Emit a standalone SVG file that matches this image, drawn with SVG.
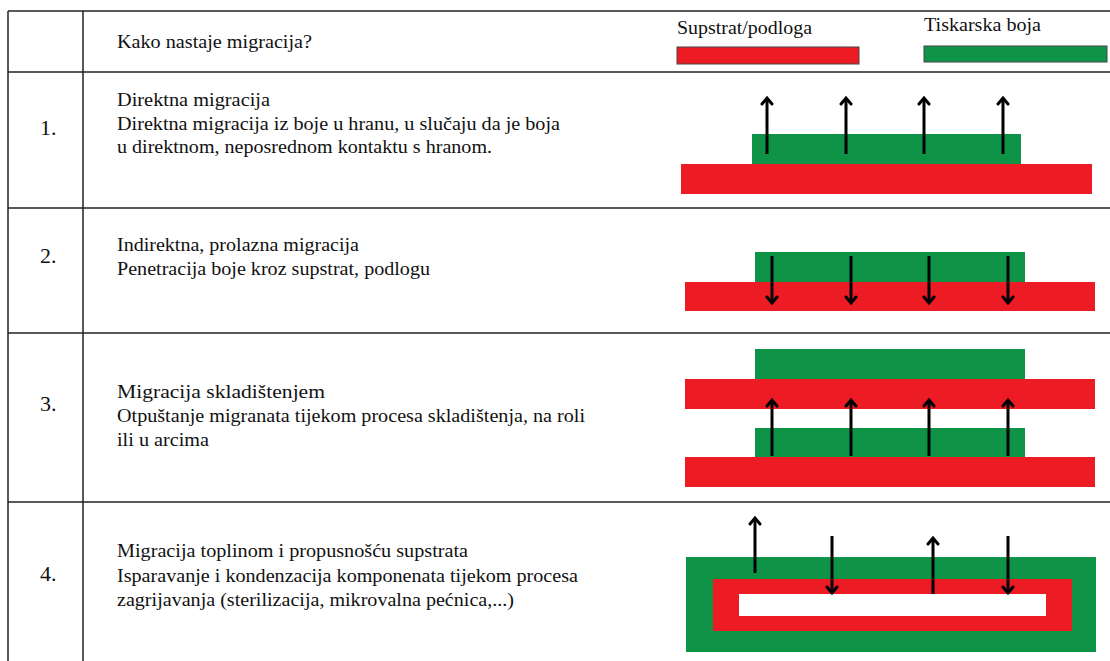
<svg xmlns="http://www.w3.org/2000/svg" width="1110" height="661" viewBox="0 0 1110 661">
<defs>
<style>
.t{font-family:'Liberation Serif','Times New Roman',serif;font-size:19px;fill:#111}
.n{font-family:'Liberation Serif','Times New Roman',serif;font-size:22px;fill:#111}
.red{fill:#ED1C24}
.grn{fill:#0F9347}
.ln{stroke:#222;stroke-width:1.5;fill:none}
.ar{stroke:#000;stroke-width:3;fill:none;marker-end:url(#ah)}
</style>
<marker id="ah" markerUnits="userSpaceOnUse" markerWidth="14" markerHeight="14" viewBox="-8 -7 10 14" refX="0" refY="0" orient="auto">
<path d="M-6,-5 L0,0 L-6,5" fill="none" stroke="#000" stroke-width="3" stroke-linecap="round" stroke-linejoin="miter"/>
</marker>
</defs>
<rect width="1110" height="661" fill="#fff"/>

<g id="table">
<line class="ln" x1="8" y1="11" x2="1110" y2="11"/>
<line class="ln" x1="8" y1="72" x2="1110" y2="72" stroke="#555"/>
<line class="ln" x1="8" y1="208" x2="1110" y2="208"/>
<line class="ln" x1="8" y1="333" x2="1110" y2="333"/>
<line class="ln" x1="8" y1="502" x2="1110" y2="502"/>
<line class="ln" x1="8" y1="11" x2="8" y2="661"/>
<line class="ln" x1="83" y1="11" x2="83" y2="661"/>
</g>

<g id="header">
<text class="t" x="117" y="48" textLength="195" lengthAdjust="spacingAndGlyphs">Kako nastaje migracija?</text>
</g>

<g id="legend">
<text class="t" x="677" y="34" textLength="135" lengthAdjust="spacingAndGlyphs">Supstrat/podloga</text>
<rect x="677" y="47" width="182" height="17" class="red" stroke="#444" stroke-width="1"/>
<text class="t" x="924" y="31" textLength="117" lengthAdjust="spacingAndGlyphs">Tiskarska boja</text>
<rect x="924" y="46" width="183" height="16" class="grn" stroke="#444" stroke-width="1"/>
</g>

<g id="row1">
<text class="n" x="40" y="135">1.</text>
<text class="t" x="117" y="106" textLength="153" lengthAdjust="spacingAndGlyphs">Direktna migracija</text>
<text class="t" x="117" y="130" textLength="443" lengthAdjust="spacingAndGlyphs">Direktna migracija iz boje u hranu, u slučaju da je boja</text>
<text class="t" x="117" y="153" textLength="375" lengthAdjust="spacingAndGlyphs">u direktnom, neposrednom kontaktu s hranom.</text>
<rect x="752" y="134" width="269" height="30" class="grn"/>
<rect x="681" y="164" width="411" height="30" class="red"/>
</g>

<g id="row2">
<text class="n" x="40" y="263">2.</text>
<text class="t" x="117" y="251" textLength="242" lengthAdjust="spacingAndGlyphs">Indirektna, prolazna migracija</text>
<text class="t" x="117" y="275" textLength="313" lengthAdjust="spacingAndGlyphs">Penetracija boje kroz supstrat, podlogu</text>
<rect x="755" y="252" width="270" height="30" class="grn"/>
<rect x="685" y="282" width="410" height="29" class="red"/>
</g>

<g id="row3">
<text class="n" x="40" y="411">3.</text>
<text class="t" x="117" y="398" textLength="208" lengthAdjust="spacingAndGlyphs">Migracija skladištenjem</text>
<text class="t" x="117" y="422" textLength="468" lengthAdjust="spacingAndGlyphs">Otpuštanje migranata tijekom procesa skladištenja, na roli</text>
<text class="t" x="117" y="446" textLength="92" lengthAdjust="spacingAndGlyphs">ili u arcima</text>
<rect x="755" y="349" width="270" height="30" class="grn"/>
<rect x="685" y="379" width="410" height="30" class="red"/>
<rect x="755" y="428" width="270" height="29" class="grn"/>
<rect x="685" y="457" width="410" height="30" class="red"/>
</g>

<g id="row4">
<text class="n" x="40" y="581">4.</text>
<text class="t" x="117" y="557" textLength="351" lengthAdjust="spacingAndGlyphs">Migracija toplinom i propusnošću supstrata</text>
<text class="t" x="117" y="582" textLength="461" lengthAdjust="spacingAndGlyphs">Isparavanje i kondenzacija komponenata tijekom procesa</text>
<text class="t" x="117" y="606" textLength="397" lengthAdjust="spacingAndGlyphs">zagrijavanja (sterilizacija, mikrovalna pećnica,...)</text>
<rect x="686" y="557" width="410" height="95" class="grn"/>
<rect x="713" y="579" width="359" height="52" class="red"/>
<rect x="739" y="594" width="307" height="22" fill="#fff"/>
</g>

<g id="connectors">
<path class="ar" d="M767,154 V98"/>
<path class="ar" d="M846,154 V98"/>
<path class="ar" d="M924,154 V98"/>
<path class="ar" d="M1003,154 V98"/>

<path class="ar" d="M772,256 V303"/>
<path class="ar" d="M851,256 V303"/>
<path class="ar" d="M929,256 V303"/>
<path class="ar" d="M1008,256 V303"/>

<path class="ar" d="M772,456 V400"/>
<path class="ar" d="M851,456 V400"/>
<path class="ar" d="M929,456 V400"/>
<path class="ar" d="M1008,456 V400"/>

<path class="ar" d="M755,573 V518"/>
<path class="ar" d="M832,536 V593"/>
<path class="ar" d="M933,594 V538"/>
<path class="ar" d="M1008,536 V593"/>
</g>
</svg>
